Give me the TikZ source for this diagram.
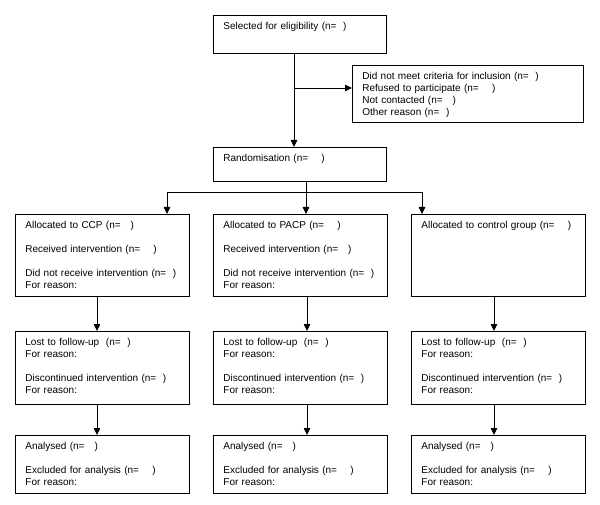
\documentclass[tikz,border=0pt]{standalone}
\usepackage{fontspec}
\setmainfont{Liberation Sans}
\usetikzlibrary{arrows.meta}
\begin{document}
\begin{tikzpicture}[x=1pt, y=-1pt, >={Triangle[length=7pt,width=6.5pt]}, line width=0.8pt]
      \tikzstyle{box}=[draw, anchor=north west, align=left, inner xsep=10pt, inner ysep=5pt, text height=9pt, font=\fontsize{10}{12}\selectfont]

      \useasboundingbox (0,0) rectangle (600,505);

      % draw boxes

      \node [box, text width=153pt, text depth=19pt] (select) at (213,15) {Selected for eligibility (n=\ \ )};

      \node [box, text width=211pt, text depth=38pt] (excl) at (352,65) {Did not meet criteria for inclusion (n=\ \ )\\Refused to participate (n=\ \ \ \ )\\Not contacted (n=\ \ \ )\\Other reason (n=\ \ )};

      \node [box, text width=153pt, text depth=15pt] (rand) at (213,147) {Randomisation (n=\ \ \ \ )};

      \node [box, text width=154pt, text depth=63pt] (alloc-1) at (15,214) {Allocated to CCP (n=\ \ \ )\\[12pt]Received intervention (n=\ \ \ \ )\\[12pt]Did not receive intervention (n=\ \ )\\For reason:};
      \node [box, text width=154pt, text depth=63pt] (alloc-2) at (213,214) {Allocated to PACP (n=\ \ \ \ )\\[12pt]Received intervention (n=\ \ \ )\\[12pt]Did not receive intervention (n=\ \ )\\For reason:};
      \node [box, text width=154pt, text depth=63pt] (alloc-3) at (411,214) {Allocated to control group (n=\ \ \ \ )};

      \foreach \x [count=\c] in {15,213,411}
      \node [box, text width=154pt, text depth=54pt] (lost-\c) at (\x,331) {Lost to follow-up\ \ (n=\ \ )\\For reason:\\[12pt]Discontinued intervention (n=\ \ )\\For reason:};

      \foreach \x [count=\c] in {15,213,411}
      \node [box, text width=154pt, text depth=39pt] (anal-\c) at (\x,435) {Analysed (n=\ \ \ )\\[12pt]Excluded for analysis (n=\ \ \ \ )\\For reason:};

      % draw lines

      \coordinate (trunk) at (294,88);
      \draw [->] (select.south -| trunk) -- (rand.north -| trunk);
      \draw [->] (trunk) -- (trunk -| excl.west);

      \foreach \x [count=\c] in {167,306,422}
      \coordinate (drop-\c) at (\x,192);
      \draw (rand.south -| drop-2) -- (drop-2);
      \draw (drop-1) -- (drop-3);
      \foreach \c in {1,2,3}
      \draw [->] (drop-\c) -- (drop-\c |- alloc-\c.north);

      \foreach \x [count=\c] in {97,307,494}
      \coordinate (col-\c) at (\x,0);
      \foreach \c in {1,2,3} {
          \draw [->] (alloc-\c.south -| col-\c) -- (lost-\c.north -| col-\c);
          \draw [->] (lost-\c.south -| col-\c) -- (anal-\c.north -| col-\c);};

    \end{tikzpicture}
\end{document}
